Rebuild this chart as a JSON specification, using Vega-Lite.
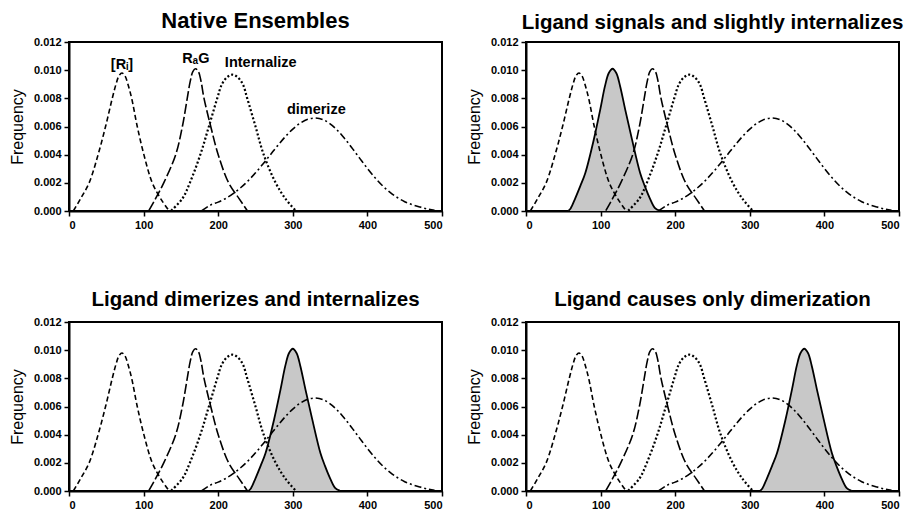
{
  "$schema": "https://vega.github.io/schema/vega-lite/v6.json",
  "padding": {"left": 8, "top": 9, "right": 5, "bottom": 5},
  "columns": 2,
  "spacing": {"row": 111, "column": 84},
  "bounds": "flush",
  "config": {
    "view": {"stroke": "black", "strokeWidth": 2},
    "axis": {"domainColor": "black", "domainWidth": 2, "tickColor": "black", "tickWidth": 1.5, "tickSize": 5, "labelFont": "Liberation Sans", "labelFontWeight": "bold", "labelFontSize": 11, "labelColor": "black", "grid": false, "titleFont": "Liberation Sans", "titleFontWeight": "normal", "titleFontSize": 16, "titleColor": "black", "labelPadding": 3},
    "axisY": {"titlePadding": 8},
    "title": {"font": "Liberation Sans", "fontSize": 20.5, "fontWeight": "bold", "color": "black", "anchor": "middle", "offset": 3}
  },
  "datasets": {
    "base": [
      {"c": "Ri", "x": 6, "y": 0.00002}, {"c": "Ri", "x": 15.6, "y": 0.00088}, {"c": "Ri", "x": 27, "y": 0.002}, {"c": "Ri", "x": 39, "y": 0.004}, {"c": "Ri", "x": 49, "y": 0.006}, {"c": "Ri", "x": 58, "y": 0.008}, {"c": "Ri", "x": 63, "y": 0.009}, {"c": "Ri", "x": 67, "y": 0.0096}, {"c": "Ri", "x": 71, "y": 0.0098}, {"c": "Ri", "x": 75, "y": 0.0096}, {"c": "Ri", "x": 79, "y": 0.009}, {"c": "Ri", "x": 84, "y": 0.008}, {"c": "Ri", "x": 91.5, "y": 0.006}, {"c": "Ri", "x": 100.4, "y": 0.004}, {"c": "Ri", "x": 111.6, "y": 0.002}, {"c": "Ri", "x": 122.8, "y": 0.00088}, {"c": "Ri", "x": 134, "y": 0.00002},
      {"c": "RaG", "x": 107, "y": 0.00002}, {"c": "RaG", "x": 116, "y": 0.00088}, {"c": "RaG", "x": 127, "y": 0.002}, {"c": "RaG", "x": 143, "y": 0.004}, {"c": "RaG", "x": 152, "y": 0.006}, {"c": "RaG", "x": 158.5, "y": 0.008}, {"c": "RaG", "x": 162.5, "y": 0.0092}, {"c": "RaG", "x": 166, "y": 0.0099}, {"c": "RaG", "x": 169.6, "y": 0.0101}, {"c": "RaG", "x": 173.5, "y": 0.0099}, {"c": "RaG", "x": 177, "y": 0.0092}, {"c": "RaG", "x": 181, "y": 0.008}, {"c": "RaG", "x": 190, "y": 0.006}, {"c": "RaG", "x": 200, "y": 0.004}, {"c": "RaG", "x": 214, "y": 0.002}, {"c": "RaG", "x": 228, "y": 0.00088}, {"c": "RaG", "x": 239, "y": 0.00002},
      {"c": "Int", "x": 137, "y": 0.00002}, {"c": "Int", "x": 152, "y": 0.00088}, {"c": "Int", "x": 162, "y": 0.002}, {"c": "Int", "x": 176, "y": 0.004}, {"c": "Int", "x": 187.5, "y": 0.006}, {"c": "Int", "x": 198.7, "y": 0.008}, {"c": "Int", "x": 205, "y": 0.0090}, {"c": "Int", "x": 212, "y": 0.0095}, {"c": "Int", "x": 219, "y": 0.00968}, {"c": "Int", "x": 226, "y": 0.0095}, {"c": "Int", "x": 233, "y": 0.009}, {"c": "Int", "x": 238.9, "y": 0.008}, {"c": "Int", "x": 250, "y": 0.006}, {"c": "Int", "x": 261, "y": 0.004}, {"c": "Int", "x": 277, "y": 0.002}, {"c": "Int", "x": 290, "y": 0.00088}, {"c": "Int", "x": 304, "y": 0.00002},
      {"c": "Dim", "x": 178, "y": 0.00002}, {"c": "Dim", "x": 190, "y": 0.00043}, {"c": "Dim", "x": 200, "y": 0.00063}, {"c": "Dim", "x": 210, "y": 0.00089}, {"c": "Dim", "x": 220, "y": 0.00123}, {"c": "Dim", "x": 230, "y": 0.00165}, {"c": "Dim", "x": 240, "y": 0.00214}, {"c": "Dim", "x": 250, "y": 0.00271}, {"c": "Dim", "x": 260, "y": 0.00334}, {"c": "Dim", "x": 270, "y": 0.004}, {"c": "Dim", "x": 280, "y": 0.00466}, {"c": "Dim", "x": 290, "y": 0.00528}, {"c": "Dim", "x": 300, "y": 0.00582}, {"c": "Dim", "x": 310, "y": 0.00624}, {"c": "Dim", "x": 320, "y": 0.00651}, {"c": "Dim", "x": 330, "y": 0.0066}, {"c": "Dim", "x": 340, "y": 0.0065}, {"c": "Dim", "x": 350, "y": 0.00619}, {"c": "Dim", "x": 360, "y": 0.00572}, {"c": "Dim", "x": 370, "y": 0.00511}, {"c": "Dim", "x": 380, "y": 0.00443}, {"c": "Dim", "x": 390, "y": 0.00372}, {"c": "Dim", "x": 400, "y": 0.00302}, {"c": "Dim", "x": 410, "y": 0.00238}, {"c": "Dim", "x": 420, "y": 0.00181}, {"c": "Dim", "x": 430, "y": 0.00134}, {"c": "Dim", "x": 440, "y": 0.00096}, {"c": "Dim", "x": 450, "y": 0.00066}, {"c": "Dim", "x": 460, "y": 0.00045}, {"c": "Dim", "x": 470, "y": 0.00029}, {"c": "Dim", "x": 480, "y": 0.00015}, {"c": "Dim", "x": 490, "y": 0.00005}
    ],
    "shade": [
      {"p": "b", "x": 57, "y": 0.00002}, {"p": "b", "x": 60, "y": 0.0002}, {"p": "b", "x": 66, "y": 0.0009}, {"p": "b", "x": 73, "y": 0.0018}, {"p": "b", "x": 79.5, "y": 0.0027}, {"p": "b", "x": 91, "y": 0.0051}, {"p": "b", "x": 99.5, "y": 0.0072}, {"p": "b", "x": 106, "y": 0.0089}, {"p": "b", "x": 111, "y": 0.0098}, {"p": "b", "x": 116, "y": 0.0101}, {"p": "b", "x": 121, "y": 0.0098}, {"p": "b", "x": 126, "y": 0.0089}, {"p": "b", "x": 133, "y": 0.0072}, {"p": "b", "x": 142, "y": 0.0051}, {"p": "b", "x": 153, "y": 0.0027}, {"p": "b", "x": 159, "y": 0.0018}, {"p": "b", "x": 166, "y": 0.0009}, {"p": "b", "x": 173, "y": 0.0002}, {"p": "b", "x": 179, "y": 0.00002},
      {"p": "c", "x": 241, "y": 0.00002}, {"p": "c", "x": 244, "y": 0.0002}, {"p": "c", "x": 250, "y": 0.0009}, {"p": "c", "x": 257, "y": 0.0018}, {"p": "c", "x": 263.5, "y": 0.0027}, {"p": "c", "x": 275, "y": 0.0051}, {"p": "c", "x": 283.5, "y": 0.0072}, {"p": "c", "x": 290, "y": 0.0089}, {"p": "c", "x": 295, "y": 0.0098}, {"p": "c", "x": 300, "y": 0.0101}, {"p": "c", "x": 305, "y": 0.0098}, {"p": "c", "x": 310, "y": 0.0089}, {"p": "c", "x": 317, "y": 0.0072}, {"p": "c", "x": 326, "y": 0.0051}, {"p": "c", "x": 337, "y": 0.0027}, {"p": "c", "x": 343, "y": 0.0018}, {"p": "c", "x": 350, "y": 0.0009}, {"p": "c", "x": 357, "y": 0.0002}, {"p": "c", "x": 363, "y": 0.00002},
      {"p": "d", "x": 314, "y": 0.00002}, {"p": "d", "x": 317, "y": 0.0002}, {"p": "d", "x": 323, "y": 0.0009}, {"p": "d", "x": 330, "y": 0.0018}, {"p": "d", "x": 336.5, "y": 0.0027}, {"p": "d", "x": 348, "y": 0.0051}, {"p": "d", "x": 356.5, "y": 0.0072}, {"p": "d", "x": 363, "y": 0.0089}, {"p": "d", "x": 368, "y": 0.0098}, {"p": "d", "x": 373, "y": 0.0101}, {"p": "d", "x": 378, "y": 0.0098}, {"p": "d", "x": 383, "y": 0.0089}, {"p": "d", "x": 390, "y": 0.0072}, {"p": "d", "x": 399, "y": 0.0051}, {"p": "d", "x": 410, "y": 0.0027}, {"p": "d", "x": 416, "y": 0.0018}, {"p": "d", "x": 423, "y": 0.0009}, {"p": "d", "x": 430, "y": 0.0002}, {"p": "d", "x": 436, "y": 0.00002}
    ],
    "labels": [
      {"t": "[Rᵢ]", "x": 71, "y": 0.01034},
      {"t": "RₐG", "x": 170, "y": 0.0108},
      {"t": "Internalize", "x": 257, "y": 0.01053},
      {"t": "dimerize", "x": 331.5, "y": 0.00715}
    ]
  },
  "concat": [
    {
      "width": 373, "height": 169,
      "title": {"text": "Native Ensembles", "fontSize": 22},
      "encoding": {
        "x": {"field": "x", "type": "quantitative", "scale": {"domain": [0, 500], "nice": false}, "axis": {"values": [0, 100, 200, 300, 400, 500], "title": null}},
        "y": {"field": "y", "type": "quantitative", "scale": {"domain": [0, 0.012], "nice": false}, "axis": {"values": [0, 0.002, 0.004, 0.006, 0.008, 0.01, 0.012], "format": ".3f", "title": "Frequency"}}
      },
      "layer": [
        {"data": {"name": "base"}, "transform": [{"filter": "datum.c != 'Int'"}], "mark": {"type": "line", "color": "black", "strokeWidth": 1.6, "interpolate": "catmull-rom"},
         "encoding": {"strokeDash": {"field": "c", "type": "nominal", "scale": {"domain": ["Ri", "RaG", "Dim"], "range": [[5, 3], [10, 3], [7, 3, 2, 3]]}, "legend": null}}},
        {"data": {"name": "base"}, "transform": [{"filter": "datum.c == 'Int'"}], "mark": {"type": "line", "color": "black", "strokeWidth": 2.2, "strokeDash": [2, 2.2], "interpolate": "catmull-rom"}},
        {"data": {"name": "labels"}, "mark": {"type": "text", "font": "Liberation Sans", "fontWeight": "bold", "fontSize": 14.5, "color": "black"}, "encoding": {"text": {"field": "t"}}}
      ]
    },
    {
      "width": 373, "height": 169,
      "title": "Ligand signals and slightly internalizes",
      "encoding": {
        "x": {"field": "x", "type": "quantitative", "scale": {"domain": [0, 500], "nice": false}, "axis": {"values": [0, 100, 200, 300, 400, 500], "title": null}},
        "y": {"field": "y", "type": "quantitative", "scale": {"domain": [0, 0.012], "nice": false}, "axis": {"values": [0, 0.002, 0.004, 0.006, 0.008, 0.01, 0.012], "format": ".3f", "title": "Frequency"}}
      },
      "layer": [
        {"data": {"name": "shade"}, "transform": [{"filter": "datum.p == 'b'"}], "mark": {"type": "area", "color": "#c8c8c8", "interpolate": "catmull-rom"}},
        {"data": {"name": "base"}, "transform": [{"filter": "datum.c != 'Int'"}], "mark": {"type": "line", "color": "black", "strokeWidth": 1.6, "interpolate": "catmull-rom"},
         "encoding": {"strokeDash": {"field": "c", "type": "nominal", "scale": {"domain": ["Ri", "RaG", "Dim"], "range": [[5, 3], [10, 3], [7, 3, 2, 3]]}, "legend": null}}},
        {"data": {"name": "base"}, "transform": [{"filter": "datum.c == 'Int'"}], "mark": {"type": "line", "color": "black", "strokeWidth": 2.2, "strokeDash": [2, 2.2], "interpolate": "catmull-rom"}},
        {"data": {"name": "shade"}, "transform": [{"filter": "datum.p == 'b'"}], "mark": {"type": "line", "color": "black", "strokeWidth": 1.8, "interpolate": "catmull-rom"}}
      ]
    },
    {
      "width": 373, "height": 169,
      "title": {"text": "Ligand dimerizes and internalizes", "offset": 6},
      "encoding": {
        "x": {"field": "x", "type": "quantitative", "scale": {"domain": [0, 500], "nice": false}, "axis": {"values": [0, 100, 200, 300, 400, 500], "title": null}},
        "y": {"field": "y", "type": "quantitative", "scale": {"domain": [0, 0.012], "nice": false}, "axis": {"values": [0, 0.002, 0.004, 0.006, 0.008, 0.01, 0.012], "format": ".3f", "title": "Frequency"}}
      },
      "layer": [
        {"data": {"name": "shade"}, "transform": [{"filter": "datum.p == 'c'"}], "mark": {"type": "area", "color": "#c8c8c8", "interpolate": "catmull-rom"}},
        {"data": {"name": "base"}, "transform": [{"filter": "datum.c != 'Int'"}], "mark": {"type": "line", "color": "black", "strokeWidth": 1.6, "interpolate": "catmull-rom"},
         "encoding": {"strokeDash": {"field": "c", "type": "nominal", "scale": {"domain": ["Ri", "RaG", "Dim"], "range": [[5, 3], [10, 3], [7, 3, 2, 3]]}, "legend": null}}},
        {"data": {"name": "base"}, "transform": [{"filter": "datum.c == 'Int'"}], "mark": {"type": "line", "color": "black", "strokeWidth": 2.2, "strokeDash": [2, 2.2], "interpolate": "catmull-rom"}},
        {"data": {"name": "shade"}, "transform": [{"filter": "datum.p == 'c'"}], "mark": {"type": "line", "color": "black", "strokeWidth": 1.8, "interpolate": "catmull-rom"}}
      ]
    },
    {
      "width": 373, "height": 169,
      "title": {"text": "Ligand causes only dimerization", "offset": 6},
      "encoding": {
        "x": {"field": "x", "type": "quantitative", "scale": {"domain": [0, 500], "nice": false}, "axis": {"values": [0, 100, 200, 300, 400, 500], "title": null}},
        "y": {"field": "y", "type": "quantitative", "scale": {"domain": [0, 0.012], "nice": false}, "axis": {"values": [0, 0.002, 0.004, 0.006, 0.008, 0.01, 0.012], "format": ".3f", "title": "Frequency"}}
      },
      "layer": [
        {"data": {"name": "shade"}, "transform": [{"filter": "datum.p == 'd'"}], "mark": {"type": "area", "color": "#c8c8c8", "interpolate": "catmull-rom"}},
        {"data": {"name": "base"}, "transform": [{"filter": "datum.c != 'Int'"}], "mark": {"type": "line", "color": "black", "strokeWidth": 1.6, "interpolate": "catmull-rom"},
         "encoding": {"strokeDash": {"field": "c", "type": "nominal", "scale": {"domain": ["Ri", "RaG", "Dim"], "range": [[5, 3], [10, 3], [7, 3, 2, 3]]}, "legend": null}}},
        {"data": {"name": "base"}, "transform": [{"filter": "datum.c == 'Int'"}], "mark": {"type": "line", "color": "black", "strokeWidth": 2.2, "strokeDash": [2, 2.2], "interpolate": "catmull-rom"}},
        {"data": {"name": "shade"}, "transform": [{"filter": "datum.p == 'd'"}], "mark": {"type": "line", "color": "black", "strokeWidth": 1.8, "interpolate": "catmull-rom"}}
      ]
    }
  ]
}
